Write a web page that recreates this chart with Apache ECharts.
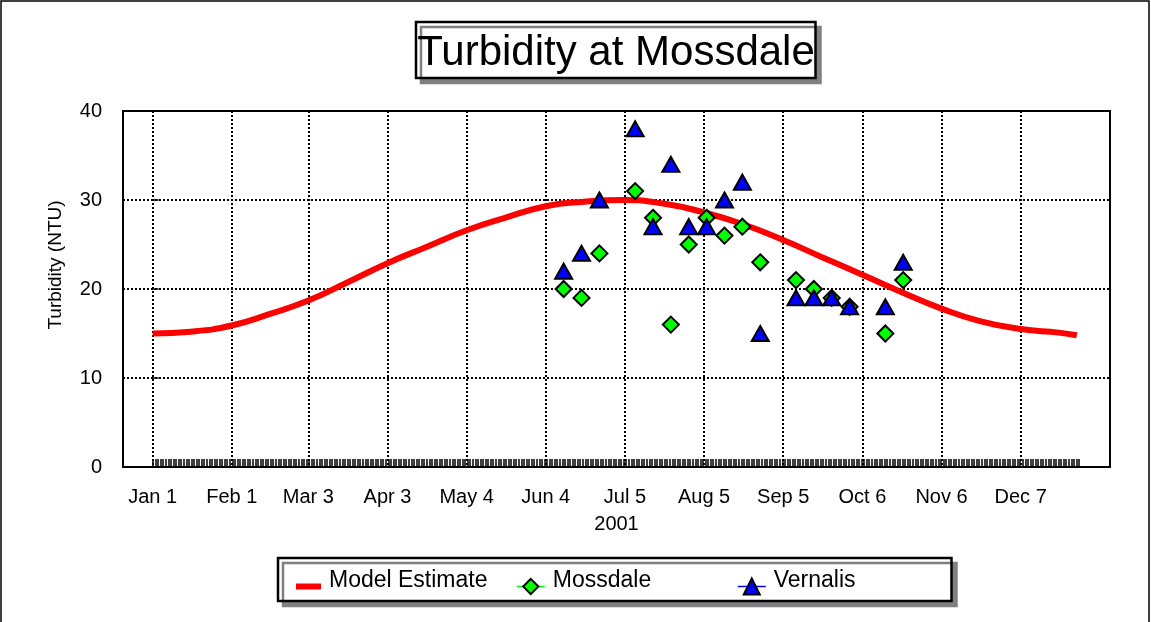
<!DOCTYPE html>
<html>
<head>
<meta charset="utf-8">
<script src="https://cdn.jsdelivr.net/npm/echarts@6/dist/echarts.min.js"></script>
<style>
html,body{margin:0;padding:0;background:#fff;}
#chart{width:1151px;height:622px;}
</style>
</head>
<body>
<div id="chart"></div>
<script>
// x axis: day of year 2001 (Jan 1 = 0)
const tickDays = [0, 31, 61, 92, 123, 154, 185, 216, 247, 278, 309, 340];
const tickLabels = ['Jan 1', 'Feb 1', 'Mar 3', 'Apr 3', 'May 4', 'Jun 4', 'Jul 5', 'Aug 5', 'Sep 5', 'Oct 6', 'Nov 6', 'Dec 7'];

// sampling dates: Jun 11, Jun 18, Jun 25, Jul 9, Jul 16, Jul 23, Jul 30, Aug 6, Aug 13,
// Aug 20, Aug 27, Sep 10, Sep 17, Sep 24, Oct 1, Oct 15, Oct 22
const sampleDays = [161, 168, 175, 189, 196, 203, 210, 217, 224, 231, 238, 252, 259, 266, 273, 287, 294];
const mossdale = [20, 19, 24, 31, 28, 16, 25, 28, 26, 27, 23, 21, 20, 19, 18, 15, 21];
const vernalis = [22, 24, 30, 38, 27, 34, 27, 27, 30, 32, 15, 19, 19, 19, 18, 18, 23];

// model estimate
const modelDays = [0, 15, 31, 46, 61, 76, 92, 107, 123, 138, 154, 169, 185, 200, 216, 231, 247, 262, 278, 293, 309, 324, 340, 355, 362];
const modelValues = [15.0, 15.2, 15.9, 17.2, 18.7, 20.7, 22.9, 24.7, 26.6, 28.0, 29.3, 29.8, 30.0, 29.6, 28.6, 27.3, 25.5, 23.6, 21.6, 19.7, 17.8, 16.4, 15.5, 15.1, 14.8];

// daily marks along the bottom of the plot (Jan 1 .. Dec 29)
const markFirstDay = 0;
const markLastDay = 362;

const FONT = "'Liberation Sans', Arial, sans-serif";
const boxStyle = {
  fill: '#fff', stroke: '#000', lineWidth: 2.5,
  shadowColor: '#808080', shadowBlur: 0, shadowOffsetX: 5, shadowOffsetY: 5
};

const chart = echarts.init(document.getElementById('chart'), null, {renderer: 'canvas'});

const legendText = {
  fontSize: 23, color: '#000', fontFamily: FONT,
  rich: {t: {fontSize: 23, color: '#000', fontFamily: FONT, padding: [0, 0, 12, 3]}}
};
const legendFmt = function (name) { return '{t|' + name + '}'; };

const option = {
  animation: false,
  backgroundColor: '#fff',
  textStyle: {fontFamily: FONT},
  title: {
    text: 'Turbidity at Mossdale',
    left: 616,
    top: 32,
    padding: 0,
    textAlign: 'center',
    textStyle: {fontFamily: FONT, fontSize: 42, fontWeight: 'normal', color: '#000'}
  },
  legend: [
    {
      data: [{name: 'Model Estimate', icon: 'rect'}],
      left: 296, top: 569, padding: 0, itemWidth: 25, itemHeight: 6,
      selectedMode: false, formatter: legendFmt, textStyle: legendText
    },
    {
      data: ['Mossdale'],
      left: 516, top: 569, padding: 0, itemWidth: 28, itemHeight: 19,
      selectedMode: false, lineStyle: {opacity: 1, width: 1.5}, formatter: legendFmt, textStyle: legendText
    },
    {
      data: ['Vernalis'],
      left: 737, top: 569, padding: 0, itemWidth: 28, itemHeight: 20,
      selectedMode: false, lineStyle: {opacity: 1, width: 1.5}, formatter: legendFmt, textStyle: legendText
    }
  ],
  grid: [
    {left: 123, right: 41, top: 111, bottom: 155, show: true, borderColor: '#000', borderWidth: 2,
     backgroundColor: 'transparent', outerBoundsMode: 'none', containLabel: false},
    {left: 153, right: 72, top: 111, bottom: 155, outerBoundsMode: 'none', containLabel: false}
  ],
  xAxis: [
    {
      type: 'value', gridIndex: 0, min: -11.6, max: 375,
      axisLine: {show: false},
      axisTick: {show: false, customValues: tickDays},
      axisLabel: {
        customValues: tickDays,
        formatter: function (v) { const i = tickDays.indexOf(v); return i >= 0 ? tickLabels[i] : ''; },
        fontSize: 20, color: '#000', margin: 20, fontFamily: FONT
      },
      splitLine: {show: true, lineStyle: {color: '#000', type: 'dotted', width: 2}},
      name: '2001', nameLocation: 'middle', nameGap: 47,
      nameTextStyle: {fontSize: 20, color: '#000', fontFamily: FONT}
    },
    {
      type: 'value', gridIndex: 1, min: markFirstDay, max: markLastDay, interval: 1,
      axisLine: {show: false},
      axisTick: {show: true, inside: true, length: 8, lineStyle: {color: '#000', width: 1.5}},
      axisLabel: {show: false},
      splitLine: {show: false}
    }
  ],
  yAxis: [
    {
      type: 'value', gridIndex: 0, min: 0, max: 40, interval: 10,
      axisLine: {show: false},
      axisTick: {show: true, inside: true, length: 6, lineStyle: {color: '#000', width: 1.5}},
      axisLabel: {fontSize: 20, color: '#000', margin: 21, fontFamily: FONT},
      splitLine: {show: true, lineStyle: {color: '#000', type: 'dotted', width: 2}}
    },
    {type: 'value', gridIndex: 1, show: false}
  ],
  graphic: [
    {type: 'rect', z: 0, silent: true, shape: {x: 1, y: 1, width: 1148, height: 660},
     style: {fill: 'none', stroke: '#000', lineWidth: 1.5}},
    {type: 'rect', z: 1, silent: true, shape: {x: 416, y: 22, width: 399.5, height: 56}, style: boxStyle},
    {type: 'rect', z: 1, silent: true, shape: {x: 278, y: 558, width: 673.5, height: 43}, style: boxStyle},
    {type: 'text', z: 5, silent: true, x: 56, y: 265, rotation: Math.PI / 2,
     style: {text: 'Turbidity (NTU)', fontSize: 19, fontFamily: FONT, fill: '#000',
             align: 'center', verticalAlign: 'middle'}}
  ],
  series: [
    {
      name: 'Model Estimate', type: 'line', xAxisIndex: 0, yAxisIndex: 0,
      data: modelDays.map((d, i) => [d, modelValues[i]]),
      smooth: true, symbol: 'none',
      lineStyle: {color: '#ff0000', width: 6, cap: 'butt'},
      itemStyle: {color: '#ff0000'},
      emphasis: {disabled: true}, z: 2
    },
    {
      name: 'Mossdale', type: 'line', xAxisIndex: 0, yAxisIndex: 0,
      data: sampleDays.map((d, i) => [d, mossdale[i]]),
      symbol: 'diamond', symbolSize: 16, showSymbol: true,
      lineStyle: {color: '#00ff00', width: 1.5, opacity: 0},
      itemStyle: {color: '#00ff00', borderColor: '#000', borderWidth: 2},
      emphasis: {disabled: true}, z: 3
    },
    {
      name: 'Vernalis', type: 'line', xAxisIndex: 0, yAxisIndex: 0,
      data: sampleDays.map((d, i) => [d, vernalis[i]]),
      symbol: 'triangle', symbolSize: [17, 15], showSymbol: true,
      lineStyle: {color: '#0000ff', width: 1.5, opacity: 0},
      itemStyle: {color: '#0000ff', borderColor: '#000', borderWidth: 2},
      emphasis: {disabled: true}, z: 4
    }
  ]
};
chart.setOption(option);
</script>
</body>
</html>
